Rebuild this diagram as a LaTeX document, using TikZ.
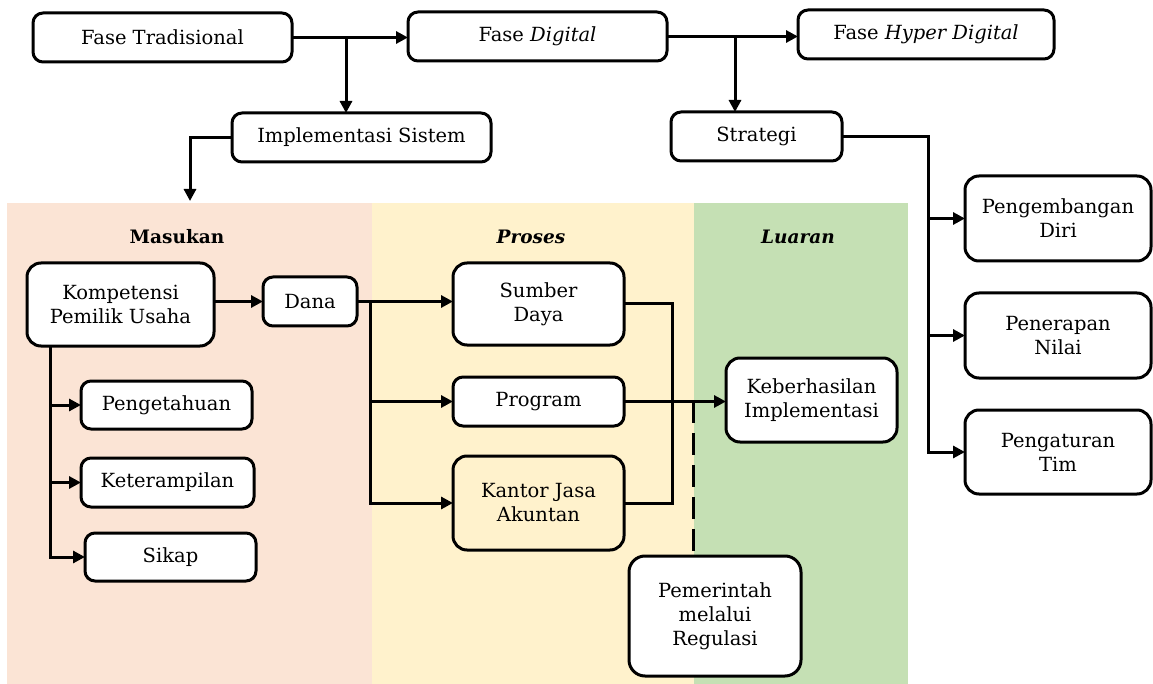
\documentclass[tikz,border=0pt]{standalone}
\usepackage{fontspec}
\setmainfont{DejaVu Serif}
\usetikzlibrary{arrows.meta}
\definecolor{pinkbg}{HTML}{FBE4D5}
\definecolor{yellowbg}{HTML}{FFF2CC}
\definecolor{greenbg}{HTML}{C5E0B4}
\tikzset{
  box/.style={draw=black, line width=3pt, rounded corners=10pt, fill=white,
    align=center, inner sep=0pt, outer sep=0pt, font=\fontsize{19.5}{24}\selectfont},
  conn/.style={line width=3pt},
  arr/.style={line width=3pt, -{Triangle[length=12pt,width=12pt]}},
  dashline/.style={line width=3pt, dash pattern=on 22pt off 10pt},
  heading/.style={font=\fontsize{18.5}{22}\selectfont\bfseries, inner sep=0pt}
}
\begin{document}
\begin{tikzpicture}[x=1pt,y=-1pt]
\useasboundingbox (0,0) rectangle (1153,684);
% background regions
\fill[pinkbg] (7,203) rectangle (372,684);
\fill[yellowbg] (372,203) rectangle (694,684);
\fill[greenbg] (694,203) rectangle (908,684);
\node[heading] (hmas) at (177,237) {Masukan};
\node[heading] (hpro) at (531,237) {\itshape Proses};
\node[heading] (hlua) at (798,237) {\itshape Luaran};
% top row
\node[box, minimum width=259pt, minimum height=49pt] (trad) at (162.5,37.5) {Fase Tradisional};
\node[box, minimum width=259pt, minimum height=49pt] (dig) at (537.5,36.5) {Fase \textit{Digital}};
\node[box, minimum width=256pt, minimum height=49pt] (hyp) at (926,34.5) {Fase \textit{Hyper Digital}};
\node[box, minimum width=259pt, minimum height=49pt] (impl) at (361.5,137.5) {Implementasi Sistem};
\node[box, minimum width=171pt, minimum height=49pt] (strat) at (756.5,136.5) {Strategi};
% masukan
\node[box, rounded corners=14pt, minimum width=187pt, minimum height=83pt] (komp) at (120.5,304.5) {Kompetensi\\Pemilik Usaha};
\node[box, minimum width=94pt, minimum height=49pt] (dana) at (310,301.5) {Dana};
\node[box, minimum width=171pt, minimum height=48pt] (penget) at (166.5,405) {Pengetahuan};
\node[box, minimum width=173pt, minimum height=49pt] (ketr) at (167.5,482.5) {Keterampilan};
\node[box, minimum width=171pt, minimum height=48pt] (sikap) at (170.5,557) {Sikap};
% proses
\node[box, rounded corners=14pt, minimum width=171pt, minimum height=82pt] (sumber) at (538.5,304) {Sumber\\Daya};
\node[box, minimum width=171pt, minimum height=49pt] (program) at (538.5,401.5) {Program};
\node[box, rounded corners=14pt, fill=yellowbg, minimum width=171pt, minimum height=94pt] (kantor) at (538.5,503) {Kantor Jasa\\Akuntan};
% luaran
\node[box, rounded corners=14pt, minimum width=171pt, minimum height=84pt] (keber) at (811.5,400) {Keberhasilan\\Implementasi};
\node[box, rounded corners=16pt, minimum width=172pt, minimum height=120pt] (pemer) at (715,616) {Pemerintah\\melalui\\Regulasi};
% strategi
\node[box, rounded corners=14pt, minimum width=186pt, minimum height=85pt] (pengem) at (1058,218.5) {Pengembangan\\Diri};
\node[box, rounded corners=14pt, minimum width=186pt, minimum height=85pt] (pener) at (1058,335.5) {Penerapan\\Nilai};
\node[box, rounded corners=14pt, minimum width=186pt, minimum height=84pt] (pengat) at (1058,452) {Pengaturan\\Tim};
% coordinates
\coordinate (b1) at (346,37.5);
\coordinate (b2) at (735,35);
\coordinate (m1) at (190,137.5);
\coordinate (m2) at (190,201);
\coordinate (kv) at (50,346);
\coordinate (dv) at (370,301.5);
\coordinate (sv) at (672,304);
\coordinate (dt) at (693,401);
\coordinate (st) at (928,136.5);
% connectors
\draw[arr] (trad.east) -- (trad.east -| dig.west);
\draw[arr] (b1) -- (b1 |- impl.north);
\draw[arr] (dig.east) -- (dig.east -| hyp.west);
\draw[arr] (b2) -- (b2 |- strat.north);
\draw[arr] (impl.west) -- (m1) -- (m2);
\draw[arr] (komp.east |- dana.west) -- (dana.west);
\draw[arr] (kv) |- (sikap.west);
\draw[arr] (kv |- penget.west) -- (penget.west);
\draw[arr] (kv |- ketr.west) -- (ketr.west);
\draw[arr] (dana.east) -- (dv) |- (kantor.west);
\draw[arr] (dv) -- (dv -| sumber.west);
\draw[arr] (dv |- program.west) -- (program.west);
\draw[conn] (sumber.east) -- (sv) |- (kantor.east);
\draw[arr] (program.east) -- (program.east -| keber.west);
\draw[dashline] (dt) -- (dt |- pemer.north);
\draw[arr] (strat.east) -- (st) |- (pengat.west);
\draw[arr] (st |- pengem.west) -- (pengem.west);
\draw[arr] (st |- pener.west) -- (pener.west);
\end{tikzpicture}
\end{document}
